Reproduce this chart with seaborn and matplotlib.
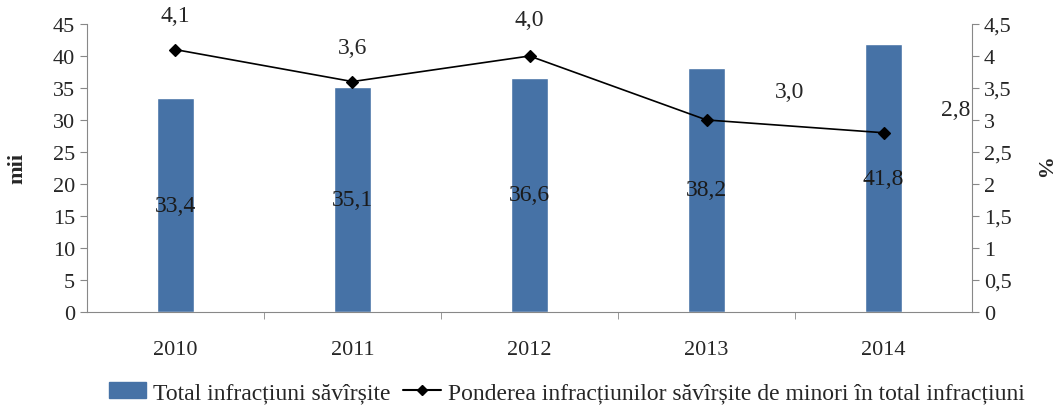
import matplotlib
matplotlib.use("Agg")
from matplotlib import pyplot as plt
from matplotlib.lines import Line2D
from matplotlib.patches import Patch
import pandas as pd
import seaborn as sns

years = ["2010", "2011", "2012", "2013", "2014"]
total_offences = [33.4, 35.1, 36.6, 38.2, 41.8]
minor_share = [4.1, 3.6, 4.0, 3.0, 2.8]
bar_labels = ["33,4", "35,1", "36,6", "38,2", "41,8"]
line_labels = ["4,1", "3,6", "4,0", "3,0", "2,8"]
left_ticks = [0, 5, 10, 15, 20, 25, 30, 35, 40, 45]
right_ticks = [0, 0.5, 1, 1.5, 2, 2.5, 3, 3.5, 4, 4.5]
right_tick_labels = ["0", "0,5", "1", "1,5", "2", "2,5", "3", "3,5", "4", "4,5"]

df = pd.DataFrame({"an": years, "total": total_offences, "pondere": minor_share})

sns.set_style("white")
plt.rcParams["font.family"] = ["Liberation Serif", "DejaVu Serif"]
plt.rcParams["font.size"] = 16

fig = plt.figure(figsize=(10.59, 4.10), dpi=100)
ax = fig.add_axes([0.082, 0.237, 0.836, 0.702])

bar_color = "#4672a6"
sns.barplot(data=df, x="an", y="total", color=bar_color, width=0.21,
            saturation=1, ax=ax)
ax.set_ylim(0, 45)
ax.set_xlim(-0.5, 4.5)
ax.set_yticks(left_ticks)
ax.set_yticklabels([str(t) for t in left_ticks])
ax.set_xlabel("")
ax.set_ylabel("mii", fontweight="bold", fontsize=16, labelpad=18)

for i, v in enumerate(total_offences):
    ax.text(i, v / 2, bar_labels[i], ha="center", va="center", fontsize=17,
            color="#1a1a1a")

ax2 = ax.twinx()
sns.pointplot(data=df, x="an", y="pondere", color="black", markers="D",
              markersize=6, linewidth=1.2, ax=ax2)
ax2.set_ylim(0, 4.5)
ax2.set_xlim(-0.5, 4.5)
ax2.set_yticks(right_ticks)
ax2.set_yticklabels(right_tick_labels)
ax2.set_ylabel("%", fontweight="bold", fontsize=16, rotation=270, labelpad=28)
ax2.set_xlabel("")

offsets = [(0, 17), (0, 17), (0, 19), (60, 13), (52, 9)]
for i, v in enumerate(minor_share):
    ax2.annotate(line_labels[i], (i, v), xytext=offsets[i],
                 textcoords="offset points", ha="center", va="bottom",
                 fontsize=17)

grey = "#888888"
for a in (ax, ax2):
    a.spines["top"].set_visible(False)
    for side in ("left", "right", "bottom"):
        a.spines[side].set_color(grey)
ax.spines["right"].set_visible(False)
ax2.spines["left"].set_visible(False)
ax2.spines["bottom"].set_visible(False)

ax.tick_params(axis="y", direction="out", length=5, color=grey, left=True)
ax2.tick_params(axis="y", direction="out", length=5, color=grey, right=True)
ax.set_xticks([0, 1, 2, 3, 4])
ax.set_xticklabels(years)
ax.tick_params(axis="x", which="major", length=0, pad=20)
ax.set_xticks([0.5, 1.5, 2.5, 3.5], minor=True)
ax.tick_params(axis="x", which="minor", direction="out", length=5,
               color=grey, bottom=True)

handles = [
    Patch(facecolor=bar_color, edgecolor=bar_color),
    Line2D([0], [0], color="black", marker="D", markersize=5, linewidth=1.5),
]
labels = ["Total infracțiuni săvîrșite",
          "Ponderea infracțiunilor săvîrșite de minori în total infracțiuni"]
fig.legend(handles, labels, loc="center", bbox_to_anchor=(0.535, 0.04),
           ncol=2, frameon=False, fontsize=17, handlelength=1.6,
           handletextpad=0.3, columnspacing=0.5)

fig.savefig("out.png", dpi=100)
